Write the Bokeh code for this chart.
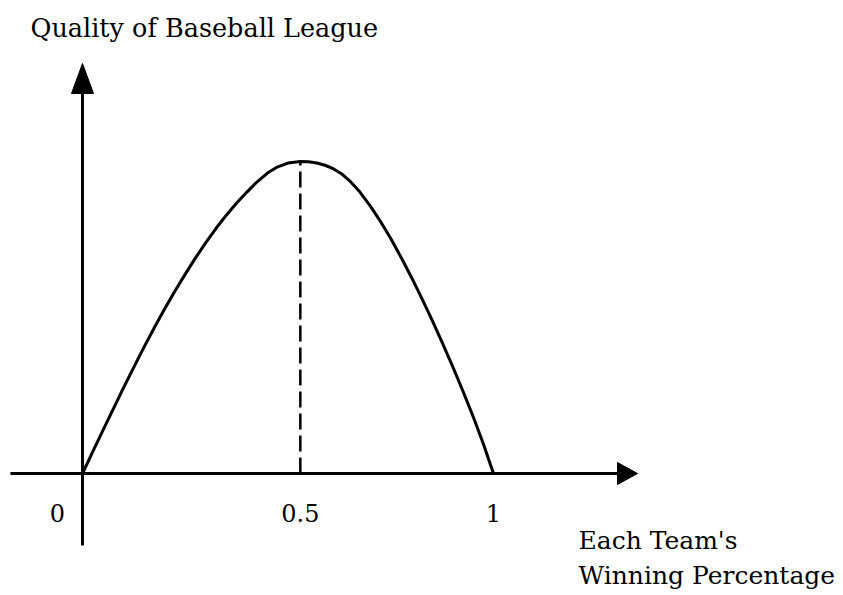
from bokeh.plotting import figure
from bokeh.models import Range1d, Label
from bokeh.embed import file_html
from bokeh.resources import INLINE

# Curve: quality of the league against each team's winning percentage
curve_x = [0.000, 0.025, 0.050, 0.075, 0.100, 0.125, 0.150, 0.175, 0.200, 0.225,
           0.250, 0.275, 0.300, 0.325, 0.350, 0.375, 0.400, 0.425, 0.450, 0.475,
           0.500, 0.530, 0.550, 0.570, 0.590, 0.610, 0.630, 0.650, 0.675, 0.700,
           0.725, 0.750, 0.775, 0.800, 0.825, 0.850, 0.875, 0.900, 0.925, 0.950,
           0.975, 1.000]
curve_y = [0.000, 0.070, 0.139, 0.207, 0.275, 0.341, 0.406, 0.468, 0.528, 0.585,
           0.639, 0.691, 0.740, 0.786, 0.828, 0.867, 0.902, 0.935, 0.963, 0.983,
           0.995, 1.000, 0.999, 0.995, 0.988, 0.977, 0.961, 0.938, 0.902, 0.858,
           0.808, 0.753, 0.693, 0.630, 0.563, 0.493, 0.420, 0.345, 0.266, 0.184,
           0.096, 0.000]

peak_x = 0.530
peak_y = 1.000

tick_x = [0.0, peak_x, 1.0]
tick_labels = ["0", "0.5", "1"]

title_text = "Quality of Baseball League"
xlabel_lines = ["Each Team's", "Winning Percentage"]

# Layout: canvas size and pixel scale of the unit square
W, H = 843, 595
OX, OY = 82, 473          # origin on canvas (px from left, px from top)
SX, SY = 411, 312         # pixels per unit along x and y


def px_x(px):
    return (px - OX) / SX


def px_y(py):
    return (OY - py) / SY


p = figure(width=W, height=H,
           x_range=Range1d(px_x(0), px_x(W)),
           y_range=Range1d(px_y(H), px_y(0)),
           x_axis_type=None, y_axis_type=None,
           output_backend="svg", toolbar_location=None,
           min_border=0, outline_line_color=None,
           background_fill_color="white", border_fill_color="white")
p.grid.visible = False

INK = "black"
FONT = "DejaVu Serif"

# Horizontal axis with arrowhead
x_start, x_tip = px_x(10), px_x(637)
head_len_x, head_half_x = 20 / SX, 11 / SY
p.segment(x0=[x_start], y0=[0], x1=[x_tip - head_len_x], y1=[0],
          line_color=INK, line_width=3)
p.patch([x_tip, x_tip - head_len_x, x_tip - head_len_x],
        [0, head_half_x, -head_half_x], color=INK, line_width=1)

# Vertical axis with arrowhead
y_start, y_tip = px_y(545), px_y(63)
head_len_y, head_half_y = 30 / SY, 11 / SX
p.segment(x0=[0], y0=[y_start], x1=[0], y1=[y_tip - head_len_y],
          line_color=INK, line_width=3)
p.patch([0, head_half_y, -head_half_y],
        [y_tip, y_tip - head_len_y, y_tip - head_len_y], color=INK, line_width=1)

# Dashed drop line from the peak
p.segment(x0=[peak_x], y0=[0], x1=[peak_x], y1=[peak_y],
          line_color=INK, line_width=2.5, line_dash="16 6")

# The curve
p.line(curve_x, curve_y, line_color=INK, line_width=3,
       line_join="round", line_cap="round")

# Tick labels below the horizontal axis
label_offsets = [-25, 0, 0]
for tx, tl, off in zip(tick_x, tick_labels, label_offsets):
    p.add_layout(Label(x=tx + off / SX, y=px_y(512), text=tl,
                       text_align="center", text_baseline="alphabetic",
                       text_font=FONT, text_font_size="24px", text_color=INK))

# Axis titles
p.add_layout(Label(x=px_x(30), y=px_y(27), text=title_text,
                   text_align="left", text_baseline="alphabetic",
                   text_font=FONT, text_font_size="25.5px", text_color=INK))
for line, base in zip(xlabel_lines, [540, 575]):
    p.add_layout(Label(x=px_x(578), y=px_y(base), text=line,
                       text_align="left", text_baseline="alphabetic",
                       text_font=FONT, text_font_size="25px", text_color=INK))

open("out.html", "w").write(file_html(p, INLINE))
